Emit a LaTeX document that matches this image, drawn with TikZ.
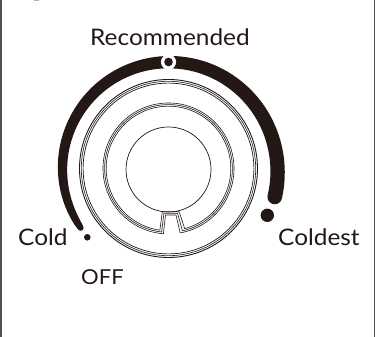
\documentclass[tikz,border=0pt]{standalone}
\usepackage{fontspec}
\setmainfont[FakeStretch=1.07]{Lato}
\definecolor{ink}{HTML}{231815}
\definecolor{edge}{HTML}{505050}
\tikzset{
  lab/.style={text=ink,inner sep=0pt,anchor=base west,font=\fontsize{22.8}{24}\selectfont},
  ringline/.style={draw=ink,line width=0.6pt},
}
\begin{document}
\begin{tikzpicture}[x=1pt,y=1pt]
\useasboundingbox (0,0) rectangle (375,337);
\fill[white] (0,0) rectangle (375,337);
\fill[edge] (0,0) rectangle (2.4,337);
\fill[edge] (374,0) rectangle (375,337);
\fill[gray!60] (33.5,336) rectangle (39,337);
\coordinate (c) at (168.5,168.5);
% tapered scale band
\fill[ink,smooth,line join=round] plot[domain=214:-15,samples=70] ({168.5+(106+4*((214-\x)/229)^4+(3+4.3*sqrt((214-\x)/229)))*cos(\x)},{168.5+(106+4*((214-\x)/229)^4+(3+4.3*sqrt((214-\x)/229)))*sin(\x)})
 -- plot[domain=-15:214,samples=70] ({168.5+(106+4*((214-\x)/229)^4-(3+4.3*sqrt((214-\x)/229)))*cos(\x)},{168.5+(106+4*((214-\x)/229)^4-(3+4.3*sqrt((214-\x)/229)))*sin(\x)}) -- cycle;
\fill[ink] (c)++(214:106) circle (3);
\fill[ink] (c)++(-15:110) circle (7.3);
% recommended mark
\fill[white] (168.5,275) circle (7.6);
\fill[ink] (168.5,275) circle (4.3);
% outer ring
\foreach \r/\lw in {89/0.9,87.2/0.6,85.4/0.7}{\draw[ringline,line width=\lw pt] (c) circle (\r);}
% inner ring with notch
\foreach \d in {0,1.6,3.2}{
  \pgfmathsetmacro\R{65.5-\d}
  \pgfmathsetmacro\xl{163.4-1.1*\d}
  \pgfmathsetmacro\xr{180.2+1.4*\d}
  \pgfmathsetmacro\as{-acos((\xr-168.5)/\R)}
  \pgfmathsetmacro\ae{360-acos((\xl-168.5)/\R)}
  \pgfmathsetmacro\tl{165.5-\d}
  \pgfmathsetmacro\tr{176+\d}
  \pgfmathsetmacro\ty{122+\d}
  \draw[ringline,line join=round] (c)++(\as:\R) arc[start angle=\as,end angle=\ae,radius=\R]
    -- (\tl,\ty) -- (\tr,\ty) -- cycle;
}
% knob face
\draw[ringline,line width=0.7pt] (168.5,167.5) circle (42.5);
% setting dots
\fill[ink] (267.3,121.7) circle (6.7);
\fill[ink] (87.3,99.7) circle (3.3);
% labels
\node[lab] (rec) at (90,291) {Recommended};
\node[lab] (cold) at (18,91) {Cold};
\node[lab] (coldest) at (278,91) {Coldest};
\node[lab,font=\fontsize{20.6}{22}\selectfont] (off) at (81,52) {OFF};
\end{tikzpicture}
\end{document}
